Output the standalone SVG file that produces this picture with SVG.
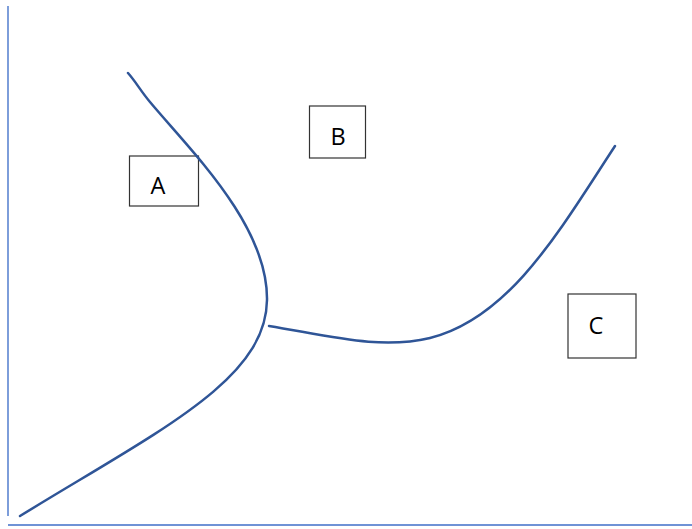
<svg xmlns="http://www.w3.org/2000/svg" width="692" height="529" viewBox="0 0 692 529">
<style>
.box{fill:#fff;stroke:#333;stroke-width:1.2}
.lbl{font-family:"Open Sans","Liberation Sans",sans-serif;font-size:23.5px;fill:#000;text-anchor:middle}
.curve{fill:none;stroke:#2f5597;stroke-width:2.5;stroke-linecap:round}
.axis{stroke:#6f93d6;stroke-width:1.8;fill:none}
</style>
<rect width="692" height="529" fill="#fff"/>
<g id="axes">
<line class="axis" x1="8" y1="6" x2="8" y2="516"/>
<line class="axis" x1="8" y1="525" x2="692" y2="525"/>
</g>
<g id="nodes">
<g id="A"><rect class="box" x="129.5" y="156" width="69" height="50"/><text class="lbl" x="158" y="193.5">A</text></g>
<g id="B"><rect class="box" x="309.5" y="106" width="56" height="52"/><text class="lbl" x="338" y="144.5">B</text></g>
<g id="C"><rect class="box" x="568" y="294" width="68" height="64"/><text class="lbl" x="596" y="333.5">C</text></g>
</g>
<g id="connectors">
<path class="curve" d="M128,73 C136,82 140,90 150,102 C190,150 268,225 267,300 C266,380 160,430 20,516"/>
<path class="curve" d="M269,326 C330,336 380,350 430,338 C510,318 560,230 615,146"/>
</g>
</svg>
